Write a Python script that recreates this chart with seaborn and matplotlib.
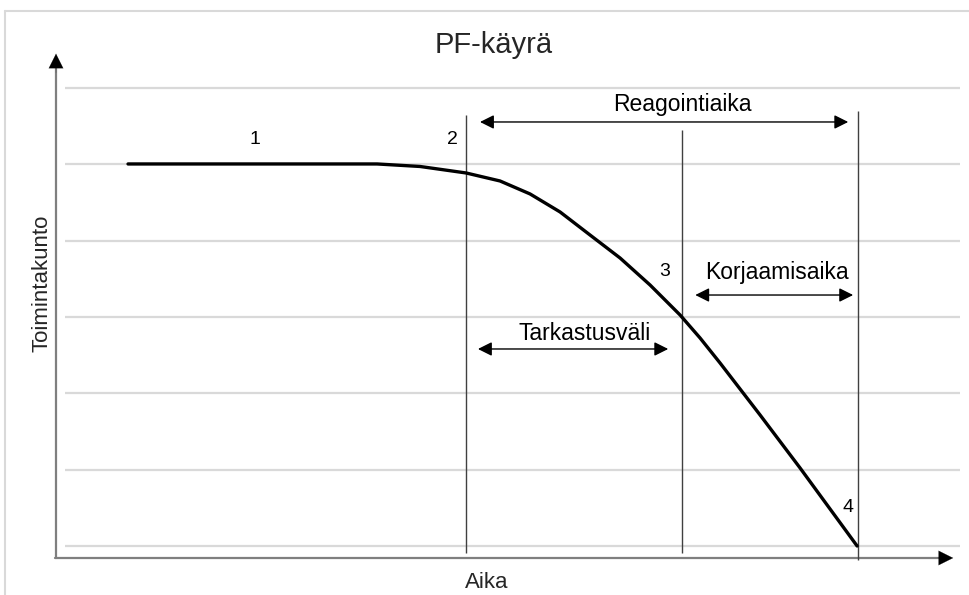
import numpy as np
import pandas as pd
import matplotlib.pyplot as plt
import seaborn as sns
from matplotlib.lines import Line2D

# PF-curve (time in arbitrary units, condition 0..6)
aika = [1.756, 7.829, 8.878, 10.0, 10.829, 11.561, 12.293, 13.024, 13.756,
        14.488, 15.22, 15.707, 16.195, 17.171, 18.146, 19.537]
kunto = [5.005, 5.005, 4.972, 4.887, 4.782, 4.612, 4.376, 4.074, 3.773,
         3.419, 3.026, 2.725, 2.397, 1.716, 1.022, 0.0]

grid_levels = [0, 1, 2, 3, 4, 5, 6]

# vertical event lines (points 2, 3, 4) and how high they reach
event_t = [10.0, 15.27, 19.56]
event_top = [5.65, 5.45, 5.70]
event_bottom = [-0.09, -0.09, -0.18]

# numbered points
num_labels = ['1', '2', '3', '4']
num_x = [4.85, 9.66, 14.85, 19.32]
num_y = [5.33, 5.33, 3.60, 0.51]

# double-headed interval arrows
span_labels = ['Reagointiaika', 'Korjaamisaika', 'Tarkastusväli']
span_start = [10.34, 15.59, 10.29]
span_end = [19.32, 19.44, 14.93]
span_y = [5.555, 3.288, 2.581]
span_text_x = [15.27, 17.59, 12.88]
span_text_y = [5.78, 3.577, 2.79]

df = pd.DataFrame({'Aika': aika, 'Toimintakunto': kunto})

sns.set_theme(style='white')
plt.rcParams['font.family'] = ['Liberation Sans', 'DejaVu Sans']

fig = plt.figure(figsize=(9.7, 5.95), dpi=100)
ax = fig.add_axes([0, 0, 1, 1])
ax.set_xlim(-1.366, 22.29)
ax.set_ylim(-0.642, 7.153)

# light frame of the original image (top and left edge)
fig.add_artist(Line2D([5 / 970, 5 / 970], [0, 1 - 11 / 595], color='#d9d9d9', lw=1.5))
fig.add_artist(Line2D([5 / 970, 1], [1 - 11 / 595, 1 - 11 / 595], color='#d9d9d9', lw=1.5))

# horizontal gridlines
ax.hlines(grid_levels, 0.22, 22.05, color='#d9d9d9', lw=1.6, zorder=1)

# axes with arrowheads (gray shaft, black tip)
ax.plot([0, 0], [-0.157, 6.3], color='#7f7f7f', lw=1.6, zorder=2)
ax.plot([-0.02, 21.7], [-0.157, -0.157], color='#7f7f7f', lw=1.6, zorder=2)
ax.annotate('', xy=(0, 6.45), xytext=(0, 6.2),
            arrowprops=dict(arrowstyle='-|>', color='black', lw=0.1,
                            mutation_scale=26, shrinkA=0, shrinkB=0), zorder=3)
ax.annotate('', xy=(21.88, -0.157), xytext=(21.5, -0.157),
            arrowprops=dict(arrowstyle='-|>', color='black', lw=0.1,
                            mutation_scale=26, shrinkA=0, shrinkB=0), zorder=3)

# event lines
ax.vlines(event_t, event_bottom, event_top, color='#404040', lw=1.0, zorder=2)

# the PF curve
sns.lineplot(data=df, x='Aika', y='Toimintakunto', sort=False, color='black',
             lw=2.4, ax=ax, zorder=4, solid_joinstyle='round')
ax.axis('off')

for lab, x, y in zip(num_labels, num_x, num_y):
    ax.text(x, y, lab, fontsize=14, ha='center', va='center', color='black')

for lab, x0, x1, y, tx, ty in zip(span_labels, span_start, span_end, span_y,
                                   span_text_x, span_text_y):
    ax.annotate('', xy=(x1, y), xytext=(x0, y),
                arrowprops=dict(arrowstyle='<|-|>', color='black', lw=1.0,
                                mutation_scale=21, shrinkA=0, shrinkB=0))
    ax.text(tx, ty, lab, fontsize=16.5, ha='center', va='center', color='black')

fig.text(494 / 970, 1 - 45 / 595, 'PF-käyrä', fontsize=21, ha='center', va='center')
fig.text(487 / 970, 1 - 582 / 595, 'Aika', fontsize=16, ha='center', va='center')
fig.text(42 / 970, 1 - 283 / 595, 'Toimintakunto', fontsize=16, ha='center',
         va='center', rotation=90)

fig.savefig('out.png', dpi=100)
